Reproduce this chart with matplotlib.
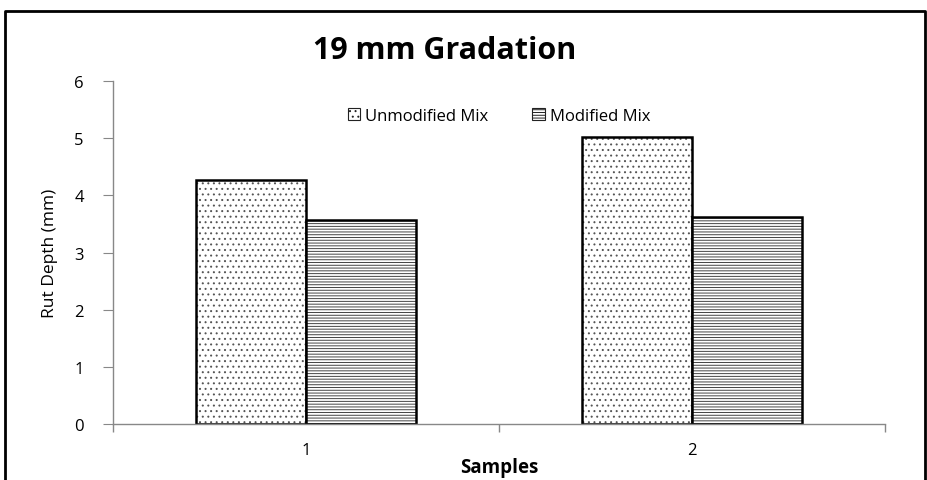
import numpy as np
import matplotlib
matplotlib.use('Agg')
import matplotlib.pyplot as plt
from matplotlib.lines import Line2D

# rut depth per sample, mm
samples = ['1', '2']
unmodified = [4.27, 5.02]
modified = [3.57, 3.62]

plt.rcParams['font.family'] = ['Open Sans', 'DejaVu Sans']
plt.rcParams['hatch.linewidth'] = 0.7

fig = plt.figure(figsize=(9.28, 4.81), dpi=100)
ax = fig.add_axes([0.1218, 0.1164, 0.8319, 0.7131])

x = np.arange(len(samples)) + 1
width = 0.285
series = [(x - width / 2, unmodified, '...', '#555555', 'Unmodified Mix'),
          (x + width / 2, modified, '------', '#444444', 'Modified Mix')]
handles = []
for pos, vals, hatch, hcol, label in series:
    # hatch takes the edge colour, so fill and outline are drawn separately
    ax.bar(pos, vals, width, facecolor='white', edgecolor=hcol, linewidth=0, hatch=hatch)
    ax.bar(pos, vals, width, fill=False, edgecolor='black', linewidth=1.8)
    handles.append(plt.Rectangle((0, 0), 1, 1, facecolor='white', edgecolor='#222222',
                                 linewidth=0.8, hatch=hatch, label=label))

ax.set_xlim(0.5, 2.5)
ax.set_ylim(0, 6)
ax.set_yticks(range(0, 7))
ax.set_xticks(x)
ax.set_xticklabels(samples)
ax.set_xticks([0.5, 1.5, 2.5], minor=True)
ax.tick_params(axis='x', which='major', length=0, labelsize=12, pad=13)
ax.tick_params(axis='x', which='minor', length=6, color='#888888', width=1)
ax.tick_params(axis='y', length=7, color='#888888', labelsize=12, pad=14)

for side in ['top', 'right']:
    ax.spines[side].set_visible(False)
for side in ['left', 'bottom']:
    ax.spines[side].set_color('#888888')
    ax.spines[side].set_linewidth(1)

ax.set_ylabel('Rut Depth (mm)', fontsize=12.5, labelpad=12)
ax.set_xlabel('Samples', fontsize=13.5, fontweight='bold', labelpad=-1)
fig.text(0.479, 0.893, '19 mm Gradation', fontsize=22, fontweight='bold',
         ha='center', va='center')

ax.legend(handles=handles, loc='upper center', bbox_to_anchor=(0.5, 0.965), ncol=2,
          frameon=False, fontsize=12, handlelength=0.75, handleheight=0.75,
          columnspacing=2.6, handletextpad=0.3)

# outer chart border (left, top, right)
fig.add_artist(Line2D([0.0055, 0.0055, 0.9968, 0.9968], [0.0, 0.975, 0.975, 0.0],
                      transform=fig.transFigure, color='black', linewidth=2))

fig.savefig('out.png', dpi=100)
